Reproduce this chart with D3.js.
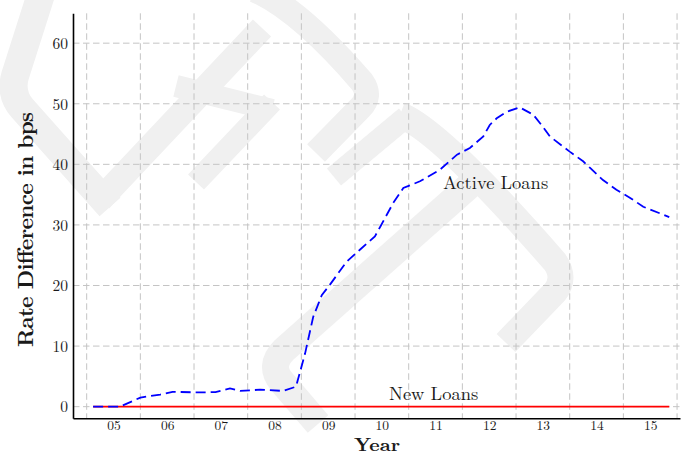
<!DOCTYPE html>
<html>
<head>
<meta charset="utf-8">
<script src="https://cdn.jsdelivr.net/npm/d3@7"></script>
<style>
  html, body { margin: 0; padding: 0; background: #ffffff; }
  svg { display: block; }
  text { font-family: "Latin Modern Roman", "CMU Serif", "Liberation Serif", "Times New Roman", serif; fill: #1a1a1a; }
</style>
</head>
<body>
<svg id="chart" width="698" height="455"></svg>
<script>
// Observation dates (decimal years) and the rate difference of active loans, in bps
const activeDates = [
  2005.12, 2005.35, 2005.62, 2006.0, 2006.37, 2006.6, 2007.1, 2007.4, 2007.67, 2007.86,
  2008.23, 2008.66, 2008.9, 2009.07, 2009.22, 2009.38, 2009.53, 2009.84, 2010.09, 2010.37,
  2010.47, 2010.71, 2010.9, 2011.21, 2011.58, 2011.9, 2012.14, 2012.39, 2012.51, 2012.64,
  2012.83, 2013.07, 2013.32, 2013.5, 2013.63, 2014.0, 2014.25, 2014.38, 2014.62, 2014.87,
  2015.12, 2015.37, 2015.855
];
const activeLoans = [
  0, 0, 0, 1.5, 2.0, 2.45, 2.35, 2.4, 3.0, 2.6,
  2.8, 2.6, 3.3, 8.8, 14.8, 18.4, 20.1, 23.9, 25.9, 28.1,
  29.7, 33.6, 36.1, 37.2, 39.1, 41.6, 42.7, 44.6, 46.5, 47.6,
  48.7, 49.4, 48.2, 46.2, 44.6, 42.1, 40.5, 39.4, 37.4, 35.8,
  34.5, 33.0, 31.3
];
// New loans carry no rate difference over the whole period
const newDates = [2005.12, 2015.855];
const newLoans = [0, 0];

// Axis ticks
const yTicks = [0, 10, 20, 30, 40, 50, 60];
const gridYears = [2005, 2006, 2007, 2008, 2009, 2010, 2011, 2012, 2013, 2014, 2015, 2016];
const yearLabels = ["05", "06", "07", "08", "09", "10", "11", "12", "13", "14", "15"];

const seriesLabels = { active: "Active Loans", fresh: "New Loans" };
const xTitle = "Year";
const yTitle = "Rate Difference in bps";

const W = 698, H = 455;
const margin = { top: 13.3, right: 18, bottom: 36.7, left: 73 };

const svg = d3.select("#chart");

// Faint logo watermark behind the plot
const wm = svg.append("g")
  .attr("fill", "none")
  .attr("stroke", "#f0f0f0")
  .attr("stroke-linejoin", "round");
const wmPaths = [
  ["M 44,-15 L 15,76 Q 10,94 22,108 L 110,207", 28],
  ["M 100,200 L 262,28", 25],
  ["M 176,86 L 272,110", 22],
  ["M 255,-10 Q 300,10 362,82 Q 372,96 360,108 L 316,153", 25],
  ["M 196,182 L 272,102", 22],
  ["M 470,185 L 284,350 Q 268,366 282,382 L 318,424", 27],
  ["M 334,177 L 406,117", 22],
  ["M 400,115 Q 440,130 555,262 Q 566,278 555,292 L 506,343", 26]
];
wmPaths.forEach(([d, w]) => wm.append("path").attr("d", d).attr("stroke-width", w));

const x = d3.scaleLinear()
  .domain([2004.745, 2016.055])
  .range([margin.left, W - margin.right]);
const y = d3.scaleLinear()
  .domain([-1.92, 64.93])
  .range([H - margin.bottom, margin.top]);

// Dashed grid
const grid = svg.append("g")
  .attr("stroke", "#c4c4c4")
  .attr("stroke-width", 1)
  .attr("stroke-dasharray", "6.5,3.5");
grid.selectAll("line.v").data(gridYears).join("line")
  .attr("class", "v")
  .attr("x1", d => x(d)).attr("x2", d => x(d))
  .attr("y1", y.range()[1]).attr("y2", y.range()[0]);
grid.selectAll("line.h").data(yTicks).join("line")
  .attr("class", "h")
  .attr("x1", x.range()[0]).attr("x2", x.range()[1])
  .attr("y1", d => y(d)).attr("y2", d => y(d));

// Series
const line = d3.line().x(d => x(d[0])).y(d => y(d[1]));

svg.append("path")
  .datum(d3.zip(newDates, newLoans))
  .attr("fill", "none")
  .attr("stroke", "#ff0000")
  .attr("stroke-width", 1.8)
  .attr("d", line);

svg.append("path")
  .datum(d3.zip(activeDates, activeLoans))
  .attr("fill", "none")
  .attr("stroke", "#0000ff")
  .attr("stroke-width", 1.8)
  .attr("stroke-dasharray", "10,5")
  .attr("d", line);

// Axes
const xAxis = d3.axisBottom(x)
  .tickValues(yearLabels.map((_, i) => gridYears[i] + 0.5))
  .tickFormat((_, i) => yearLabels[i])
  .tickSize(0)
  .tickPadding(0);
const gx = svg.append("g")
  .attr("transform", `translate(0,${y.range()[0]})`)
  .call(xAxis);
gx.select(".domain").attr("stroke", "#000").attr("stroke-width", 1.6);
gx.selectAll(".tick text")
  .attr("y", 11.8)
  .attr("dy", 0)
  .attr("font-size", 13.5)
  .attr("font-family", null)
  .attr("fill", "#1a1a1a");

const yAxis = d3.axisLeft(y)
  .tickValues(yTicks)
  .tickFormat(d3.format("d"))
  .tickSize(0)
  .tickPadding(5);
const gy = svg.append("g")
  .attr("transform", `translate(${x.range()[0]},0)`)
  .call(yAxis);
gy.select(".domain").attr("stroke", "#000").attr("stroke-width", 1.6);
gy.selectAll(".tick text")
  .attr("font-size", 15.5)
  .attr("font-family", null)
  .attr("dy", "0.34em")
  .attr("fill", "#1a1a1a");

// Series annotations
svg.append("text")
  .attr("x", 443).attr("y", y(activeLoans[22]) + 1.5)
  .attr("font-size", 18.5)
  .text(seriesLabels.active);
svg.append("text")
  .attr("x", 389).attr("y", y(newLoans[0]) - 6.5)
  .attr("font-size", 18.5)
  .text(seriesLabels.fresh);

// Axis titles
svg.append("text")
  .attr("x", 377).attr("y", 451)
  .attr("text-anchor", "middle")
  .attr("font-size", 18)
  .attr("font-weight", "bold")
  .attr("textLength", 46)
  .attr("lengthAdjust", "spacingAndGlyphs")
  .text(xTitle);
svg.append("text")
  .attr("transform", "translate(33,229.5) rotate(-90)")
  .attr("text-anchor", "middle")
  .attr("font-size", 22)
  .attr("font-weight", "bold")
  .attr("textLength", 235)
  .attr("lengthAdjust", "spacing")
  .text(yTitle);
</script>
</body>
</html>
